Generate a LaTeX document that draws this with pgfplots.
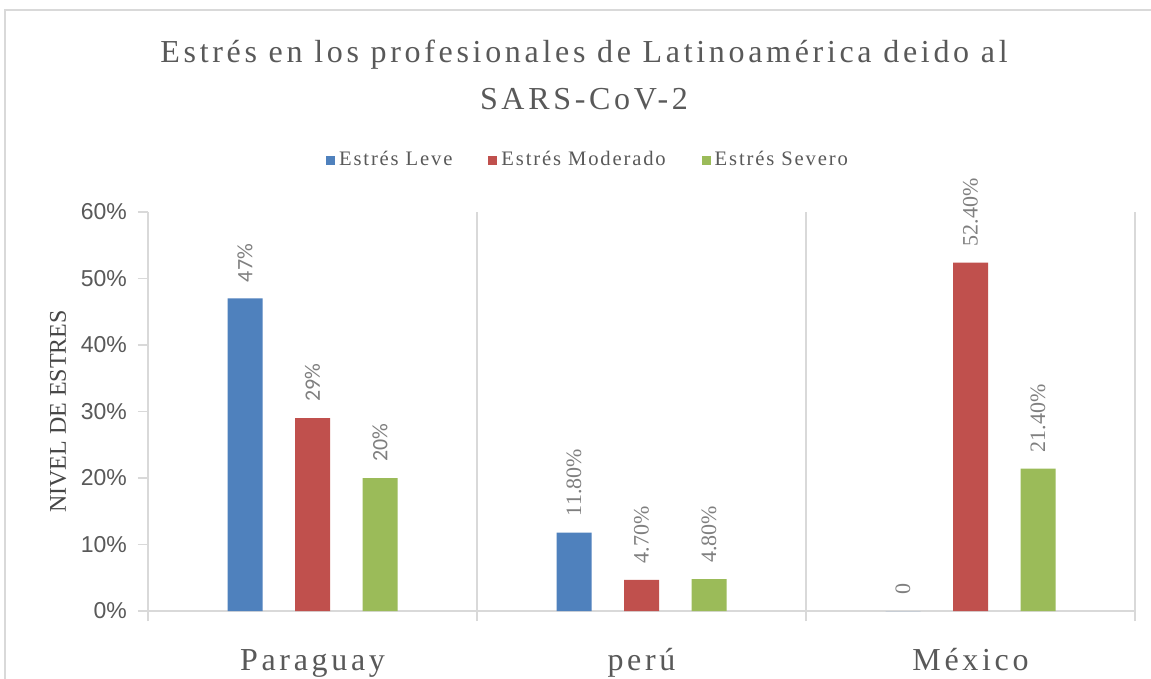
\documentclass[border=0pt]{standalone}
\usepackage{fontspec}
\setmainfont{Liberation Serif}
\newfontfamily\carl{Carlito}
\newfontfamily\arial{Liberation Sans}
\newfontfamily\spaced[LetterSpace=11.5]{Liberation Serif}
\newfontfamily\legspaced[LetterSpace=9]{Liberation Serif}
\usepackage{pgfplots}
\pgfplotsset{compat=1.18}
\definecolor{cblue}{HTML}{4F81BD}
\definecolor{cred}{HTML}{C0504D}
\definecolor{cgreen}{HTML}{9BBB59}
\definecolor{gridgray}{HTML}{D9D9D9}
\definecolor{txtgray}{HTML}{595959}
\definecolor{lblgray}{HTML}{7F7F7F}
\begin{document}
\begin{tikzpicture}
\useasboundingbox (0,0) rectangle (575.5pt,-339.5pt);
\fill[white] (0,0) rectangle (575.5pt,-339.5pt);
\draw[line width=1pt, gridgray] (2.5pt,-339.5pt) -- (2.5pt,-5pt) -- (575.5pt,-5pt);
\begin{axis}[
  at={(74pt,-305.5pt)}, anchor=south west,
  scale only axis, width=493.5pt, height=199.5pt,
  xmin=-0.5, xmax=2.5, ymin=0, ymax=60,
  ybar=16.25pt, bar width=17.5pt,
  axis x line*=bottom, axis y line*=left,
  axis line style={draw=gridgray, line width=0.7pt},
  tick align=outside, major tick length=5pt,
  tick style={draw=gridgray, line width=0.7pt},
  xtick={-0.5,0.5,1.5,2.5}, xticklabels={,,,},
  xmajorgrids, major grid style={draw=gridgray, line width=0.7pt},
  extra x ticks={0,1,2},
  extra x tick labels={Paraguay,perú,México},
  extra x tick style={grid=none, tick style={draw=none}},
  xticklabel style={font=\spaced\fontsize{16}{19}\selectfont, text=txtgray, anchor=base, yshift=-24.5pt},
  ytick={0,10,...,60},
  yticklabel={\pgfmathprintnumber{\tick}\%},
  /pgf/number format/assume math mode=true,
  yticklabel style={font=\arial\fontsize{11.5}{13}\selectfont, text=txtgray, xshift=-2pt},
  ylabel={NIVEL DE ESTRES},
  every axis y label/.style={at={(axis description cs:0,0.5)}, xshift=-45pt, rotate=90, anchor=center, font=\fontsize{12}{14}\selectfont, text=txtgray!80!black},
  point meta=explicit symbolic,
  nodes near coords,
  every node near coord/.append style={rotate=90, anchor=west, inner xsep=8pt, inner ysep=0pt, text=lblgray, font=\fontsize{11}{13}\selectfont},
  legend columns=3,
  legend style={draw=none, fill=none, at={(0.4468,1.1303)}, anchor=center,
    font=\legspaced\fontsize{10.3}{12}\selectfont, text=txtgray,
    /tikz/every even column/.append style={column sep=16pt}},
]
\addplot[fill=cblue, draw=none, legend image code/.code={\fill[cblue] (0pt,-2.25pt) rectangle (4.5pt,2.25pt);}]
  coordinates {(0,47) [\carl 47\%] (1,11.8) [11.80\%] (2,0) [0]};
\addplot[fill=cred, draw=none, legend image code/.code={\fill[cred] (0pt,-2.25pt) rectangle (4.5pt,2.25pt);}]
  coordinates {(0,29) [\carl 29\%] (1,4.7) [4.70\%] (2,52.4) [52.40\%]};
\addplot[fill=cgreen, draw=none, legend image code/.code={\fill[cgreen] (0pt,-2.25pt) rectangle (4.5pt,2.25pt);}]
  coordinates {(0,20) [\carl 20\%] (1,4.8) [4.80\%] (2,21.4) [21.40\%]};
\legend{Estrés Leve,Estrés Moderado,Estrés Severo}
\end{axis}
\node[font=\spaced\fontsize{16}{19}\selectfont, text=txtgray, anchor=base] at (292pt,-31.5pt) {Estrés en los profesionales de Latinoamérica deido al};
\node[font=\spaced\fontsize{16}{19}\selectfont, text=txtgray, anchor=base] at (292pt,-55pt) {SARS-CoV-2};
\end{tikzpicture}
\end{document}
